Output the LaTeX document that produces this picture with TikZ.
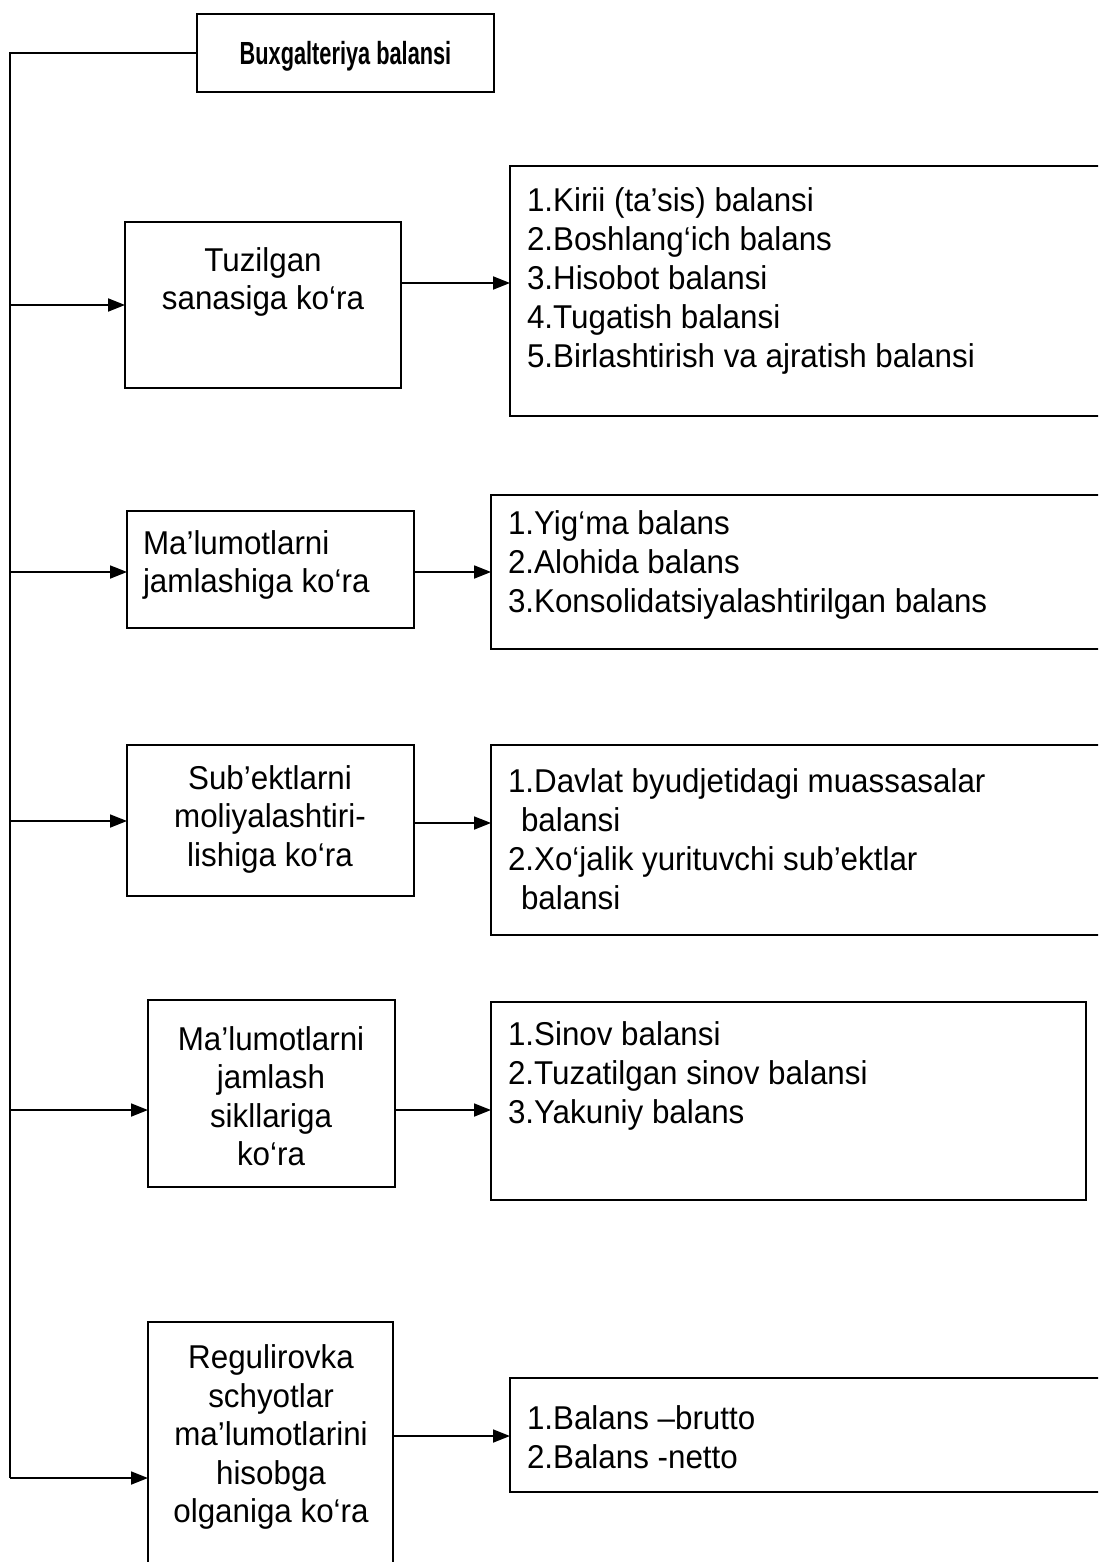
\documentclass[tikz,border=0pt]{standalone}
\usepackage{fontspec}
\setmainfont[FakeStretch=0.95]{Liberation Sans}
\newfontfamily\headfont[FakeStretch=0.68]{Liberation Sans Bold}
\usetikzlibrary{arrows.meta}
\begin{document}
\begin{tikzpicture}[x=1pt,y=-1pt,
  every node/.style={inner sep=0pt,outer sep=0pt},
  frame/.style={draw,line width=1.8pt,anchor=north west},
  txt/.style={font=\fontsize{33}{38.5}\selectfont,align=center},
  lst/.style={font=\fontsize{33}{39}\selectfont,align=left,anchor=west},
  link/.style={line width=1.8pt},
  arr/.style={link,-{Triangle[length=17pt,width=13pt]}}]
\clip (0,0) rectangle (1098,1562);

% title box
\node[frame,minimum width=297pt,minimum height=78pt] (top) at (197,14) {};
\node[font=\headfont\fontsize{32}{36}\selectfont] (toptxt) at ([yshift=-3pt]top.center) {Buxgalteriya balansi};

% classification boxes (left column)
\node[frame,minimum width=276pt,minimum height=166pt] (b1) at (125,222) {};
\node[frame,minimum width=287pt,minimum height=117pt] (b2) at (127,511) {};
\node[frame,minimum width=287pt,minimum height=151pt] (b3) at (127,745) {};
\node[frame,minimum width=247pt,minimum height=187pt] (b4) at (148,1000) {};
\node[frame,minimum width=245pt,minimum height=270pt] (b5) at (148,1322) {};

\node[txt] (b1t) at (263,282) {Tuzilgan\\sanasiga ko‘ra};
\node[txt,align=left,anchor=west] (b2t) at (143,565) {Ma’lumotlarni\\jamlashiga ko‘ra};
\node[txt] (b3t) at (270,819) {Sub’ektlarni\\moliyalashtiri-\\lishiga ko‘ra};
\node[txt] (b4t) at (271,1096) {Ma’lumotlarni\\jamlash\\sikllariga\\ko‘ra};
\node[txt] (b5t) at (271,1437) {Regulirovka\\schyotlar\\ma’lumotlarini\\hisobga\\olganiga ko‘ra};

% kinds of balance sheets (right column)
\node[frame,minimum width=620pt,minimum height=250pt] (r1) at (510,166) {};
\node[frame,minimum width=640pt,minimum height=154pt] (r2) at (491,495) {};
\node[frame,minimum width=640pt,minimum height=190pt] (r3) at (491,745) {};
\node[frame,minimum width=595pt,minimum height=198pt] (r4) at (491,1002) {};
\node[frame,minimum width=620pt,minimum height=114pt] (r5) at (510,1378) {};

\node[lst] (r1t) at (527,281) {1.Kirii (ta’sis) balansi\\2.Boshlang‘ich balans\\3.Hisobot balansi\\4.Tugatish balansi\\5.Birlashtirish va ajratish balansi};
\node[lst] (r2t) at (508,565) {1.Yig‘ma balans\\2.Alohida balans\\3.Konsolidatsiyalashtirilgan balans};
\node[lst] (r3t) at (508,839) {1.Davlat byudjetidagi muassasalar\\\hspace*{13pt}balansi\\2.Xo‘jalik yurituvchi sub’ektlar\\\hspace*{13pt}balansi};
\node[lst] (r4t) at (508,1076) {1.Sinov balansi\\2.Tuzatilgan sinov balansi\\3.Yakuniy balans};
\node[lst] (r5t) at (527,1437) {1.Balans –brutto\\2.Balans -netto};

% trunk line
\coordinate (c0) at (10,53);
\coordinate (y1) at (10,305);
\coordinate (y2) at (10,572);
\coordinate (y3) at (10,821);
\coordinate (y4) at (10,1110);
\coordinate (y5) at (10,1478);
\draw[link] (top.west |- c0) -- (c0) -- (y5);

\draw[arr] (y1) -- (b1.west |- y1);
\draw[arr] (y2) -- (b2.west |- y2);
\draw[arr] (y3) -- (b3.west |- y3);
\draw[arr] (y4) -- (b4.west |- y4);
\draw[arr] (y5) -- (b5.west |- y5);

% links to the lists
\coordinate (o1) at (0,283);
\coordinate (o2) at (0,572);
\coordinate (o3) at (0,823);
\coordinate (o4) at (0,1110);
\coordinate (o5) at (0,1436);
\draw[arr] (b1.east |- o1) -- (r1.west |- o1);
\draw[arr] (b2.east |- o2) -- (r2.west |- o2);
\draw[arr] (b3.east |- o3) -- (r3.west |- o3);
\draw[arr] (b4.east |- o4) -- (r4.west |- o4);
\draw[arr] (b5.east |- o5) -- (r5.west |- o5);
\end{tikzpicture}
\end{document}
